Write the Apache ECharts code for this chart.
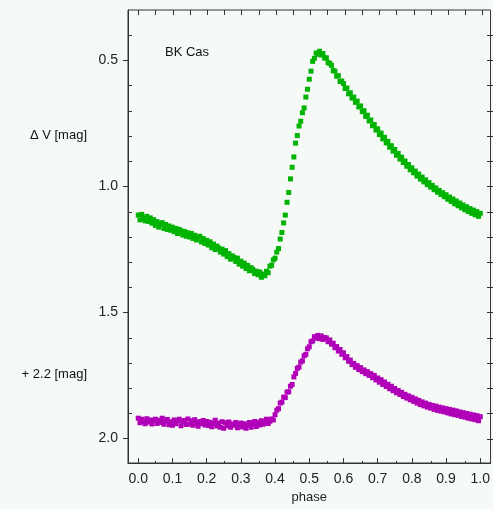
<!DOCTYPE html>
<html>
<head>
<meta charset="utf-8">
<script src="https://cdn.jsdelivr.net/npm/echarts@6/dist/echarts.min.js"></script>
<style>
html,body{margin:0;padding:0;background:#f6faf7;}
#chart{width:493px;height:509px;}
</style>
</head>
<body>
<div id="chart"></div>
<script>
// phase step between consecutive observations
const phaseStep = 0.005;
// Delta V magnitudes (green), phase 0.000 .. 1.000
const greenMag = [
1.115,1.134,1.112,1.128,1.138,1.120,1.140,1.126,1.147,1.133,
1.156,1.141,1.163,1.150,1.145,1.168,1.152,1.172,1.158,1.175,
1.163,1.181,1.168,1.188,1.172,1.178,1.194,1.180,1.199,1.185,
1.202,1.188,1.208,1.195,1.214,1.203,1.199,1.222,1.208,1.228,
1.215,1.234,1.221,1.245,1.230,1.252,1.238,1.246,1.262,1.250,
1.270,1.256,1.280,1.268,1.290,1.277,1.283,1.299,1.286,1.310,
1.298,1.318,1.306,1.327,1.315,1.336,1.324,1.331,1.347,1.338,
1.352,1.341,1.362,1.349,1.356,1.338,1.344,1.318,1.314,1.293,
1.286,1.262,1.248,1.210,1.184,1.146,1.115,1.064,1.025,0.971,
0.925,0.884,0.829,0.799,0.761,0.742,0.708,0.689,0.646,0.615,
0.575,0.543,0.504,0.492,0.471,0.476,0.464,0.479,0.473,0.491,
0.490,0.509,0.512,0.520,0.541,0.543,0.563,0.561,0.584,0.582,
0.592,0.612,0.610,0.633,0.629,0.650,0.646,0.667,0.662,0.685,
0.681,0.704,0.700,0.723,0.718,0.741,0.737,0.760,0.755,0.777,
0.772,0.795,0.789,0.812,0.806,0.828,0.822,0.845,0.839,0.861,
0.854,0.877,0.870,0.892,0.885,0.906,0.900,0.921,0.914,0.935,
0.927,0.947,0.940,0.960,0.952,0.972,0.964,0.983,0.975,0.994,
0.986,1.004,0.997,1.014,1.007,1.024,1.017,1.033,1.026,1.042,
1.034,1.052,1.043,1.061,1.051,1.070,1.059,1.078,1.067,1.086,
1.075,1.094,1.082,1.101,1.089,1.108,1.095,1.114,1.101,1.120,
1.108
];
// Delta V + 2.2 magnitudes (magenta), phase 0.000 .. 1.000
const magentaMag = [
1.922,1.940,1.926,1.935,1.944,1.924,1.938,1.929,1.945,1.931,
1.926,1.943,1.930,1.939,1.922,1.946,1.933,1.927,1.948,1.936,
1.950,1.929,1.944,1.933,1.926,1.952,1.938,1.931,1.947,1.925,
1.946,1.932,1.950,1.928,1.941,1.954,1.935,1.944,1.931,1.949,
1.935,1.951,1.938,1.956,1.944,1.930,1.953,1.941,1.958,1.936,
1.962,1.940,1.952,1.937,1.958,1.945,1.950,1.939,1.960,1.947,
1.941,1.957,1.944,1.962,1.950,1.939,1.958,1.946,1.935,1.955,
1.938,1.949,1.932,1.946,1.940,1.926,1.943,1.934,1.925,1.929,
1.908,1.890,1.884,1.862,1.858,1.838,1.840,1.818,1.817,1.795,
1.788,1.758,1.744,1.724,1.719,1.699,1.694,1.674,1.668,1.646,
1.638,1.618,1.615,1.598,1.604,1.593,1.606,1.595,1.609,1.602,
1.603,1.618,1.611,1.628,1.624,1.642,1.637,1.655,1.649,1.668,
1.662,1.682,1.677,1.696,1.691,1.709,1.704,1.720,1.713,1.729,
1.721,1.737,1.730,1.745,1.737,1.752,1.745,1.761,1.752,1.770,
1.762,1.779,1.769,1.788,1.778,1.796,1.787,1.805,1.795,1.813,
1.804,1.821,1.812,1.828,1.819,1.836,1.827,1.842,1.833,1.849,
1.839,1.855,1.845,1.862,1.851,1.868,1.857,1.873,1.862,1.878,
1.867,1.882,1.871,1.887,1.874,1.891,1.878,1.894,1.881,1.897,
1.884,1.901,1.887,1.905,1.890,1.908,1.893,1.911,1.897,1.915,
1.900,1.918,1.903,1.922,1.906,1.925,1.909,1.928,1.912,1.932,
1.916
];
// tick values
const xMajorTicks = [0,0.1,0.2,0.3,0.4,0.5,0.6,0.7,0.8,0.9,1.0];
const xMinorTicks = [0.05,0.15,0.25,0.35,0.45,0.55,0.65,0.75,0.85,0.95];
const xTopTicks = [0,0.05,0.1,0.15,0.2,0.25,0.3,0.35,0.4,0.45,0.5,0.55,0.6,0.65,0.7,0.75,0.8,0.85,0.9,0.95,1.0];
const yMajorTicks = [0.5,1.0,1.5,2.0];
const yMinorTicks = [0.4,0.6,0.7,0.8,0.9,1.1,1.2,1.3,1.4,1.6,1.7,1.8,1.9];
const yRightTicks = [0.4,0.5,0.6,0.7,0.8,0.9,1.0,1.1,1.2,1.3,1.4,1.5,1.6,1.7,1.8,1.9,2.0];

const toPoints = arr => arr.map((v,i)=>[+(i*phaseStep).toFixed(3), v]);

const X_MIN=-0.03, X_MAX=1.03, Y_MIN=0.3, Y_MAX=2.1;
const axisColor='#333';
const font='"Liberation Sans", Arial, sans-serif';
const gridRect={left:128, top:10, right:-4, bottom:45};

function xAx(grid, opts){
  return Object.assign({
    type:'value', gridIndex:grid, min:X_MIN, max:X_MAX, position:'bottom',
    splitLine:{show:false},
    axisLine:{show:false, onZero:false},
    axisTick:{show:false},
    axisLabel:{show:false}
  }, opts);
}
function yAx(grid, opts){
  return Object.assign({
    type:'value', gridIndex:grid, min:Y_MIN, max:Y_MAX, inverse:true, position:'left',
    splitLine:{show:false},
    axisLine:{show:false, onZero:false},
    axisTick:{show:false},
    axisLabel:{show:false}
  }, opts);
}
const tickStyle={color:axisColor, width:1};

const chart = echarts.init(document.getElementById('chart'), null, {renderer:'canvas'});
chart.setOption({
  backgroundColor:'#f6faf7',
  animation:false,
  textStyle:{fontFamily:font},
  grid:[
    Object.assign({show:true, borderColor:axisColor, borderWidth:1, backgroundColor:'transparent'}, gridRect),
    Object.assign({show:false}, gridRect),
    Object.assign({show:false}, gridRect)
  ],
  xAxis:[
    xAx(0, {
      axisLine:{show:true, onZero:false, lineStyle:{color:axisColor,width:1}},
      axisTick:{show:true, inside:true, length:5, customValues:xMajorTicks, lineStyle:tickStyle},
      axisLabel:{show:true, customValues:xMajorTicks, margin:9, color:'#222', fontSize:14, fontFamily:font,
                 formatter:v=>(+v).toFixed(1)},
      name:'phase', nameLocation:'middle', nameGap:28,
      nameTextStyle:{color:'#222', fontSize:13, fontFamily:font}
    }),
    xAx(1, {axisTick:{show:true, inside:true, length:3, customValues:xMinorTicks, lineStyle:tickStyle}}),
    xAx(2, {position:'top',
      axisTick:{show:true, inside:true, length:5, customValues:xTopTicks, lineStyle:tickStyle}})
  ],
  yAxis:[
    yAx(0, {
      axisLine:{show:true, onZero:false, lineStyle:{color:axisColor,width:1}},
      axisTick:{show:true, inside:false, length:5, customValues:yMajorTicks, lineStyle:tickStyle},
      axisLabel:{show:true, customValues:yMajorTicks, margin:10, color:'#222', fontSize:14, fontFamily:font,
                 formatter:v=>(+v).toFixed(1)}
    }),
    yAx(1, {axisTick:{show:true, inside:true, length:4, customValues:yMinorTicks, lineStyle:tickStyle}}),
    yAx(2, {position:'right',
      axisTick:{show:true, inside:true, length:6, customValues:yRightTicks, lineStyle:tickStyle}})
  ],
  graphic:[
    {type:'text', left:165, top:46, style:{text:'BK Cas', fill:'#111', font:'13px '+font}},
    {type:'text', right:493-87, top:129, style:{text:'\u0394 V [mag]', fill:'#111', font:'13px '+font}},
    {type:'text', right:493-87, top:368, style:{text:'+ 2.2 [mag]', fill:'#111', font:'13px '+font}}
  ],
  series:[
    {type:'scatter', name:'V', xAxisIndex:0, yAxisIndex:0, data:toPoints(greenMag),
     symbol:'rect', symbolSize:5, itemStyle:{color:'#00b300', opacity:1}, silent:true},
    {type:'scatter', name:'V+2.2', xAxisIndex:0, yAxisIndex:0, data:toPoints(magentaMag),
     symbol:'rect', symbolSize:5, itemStyle:{color:'#b000b8', opacity:1}, silent:true}
  ]
});
</script>
</body>
</html>
